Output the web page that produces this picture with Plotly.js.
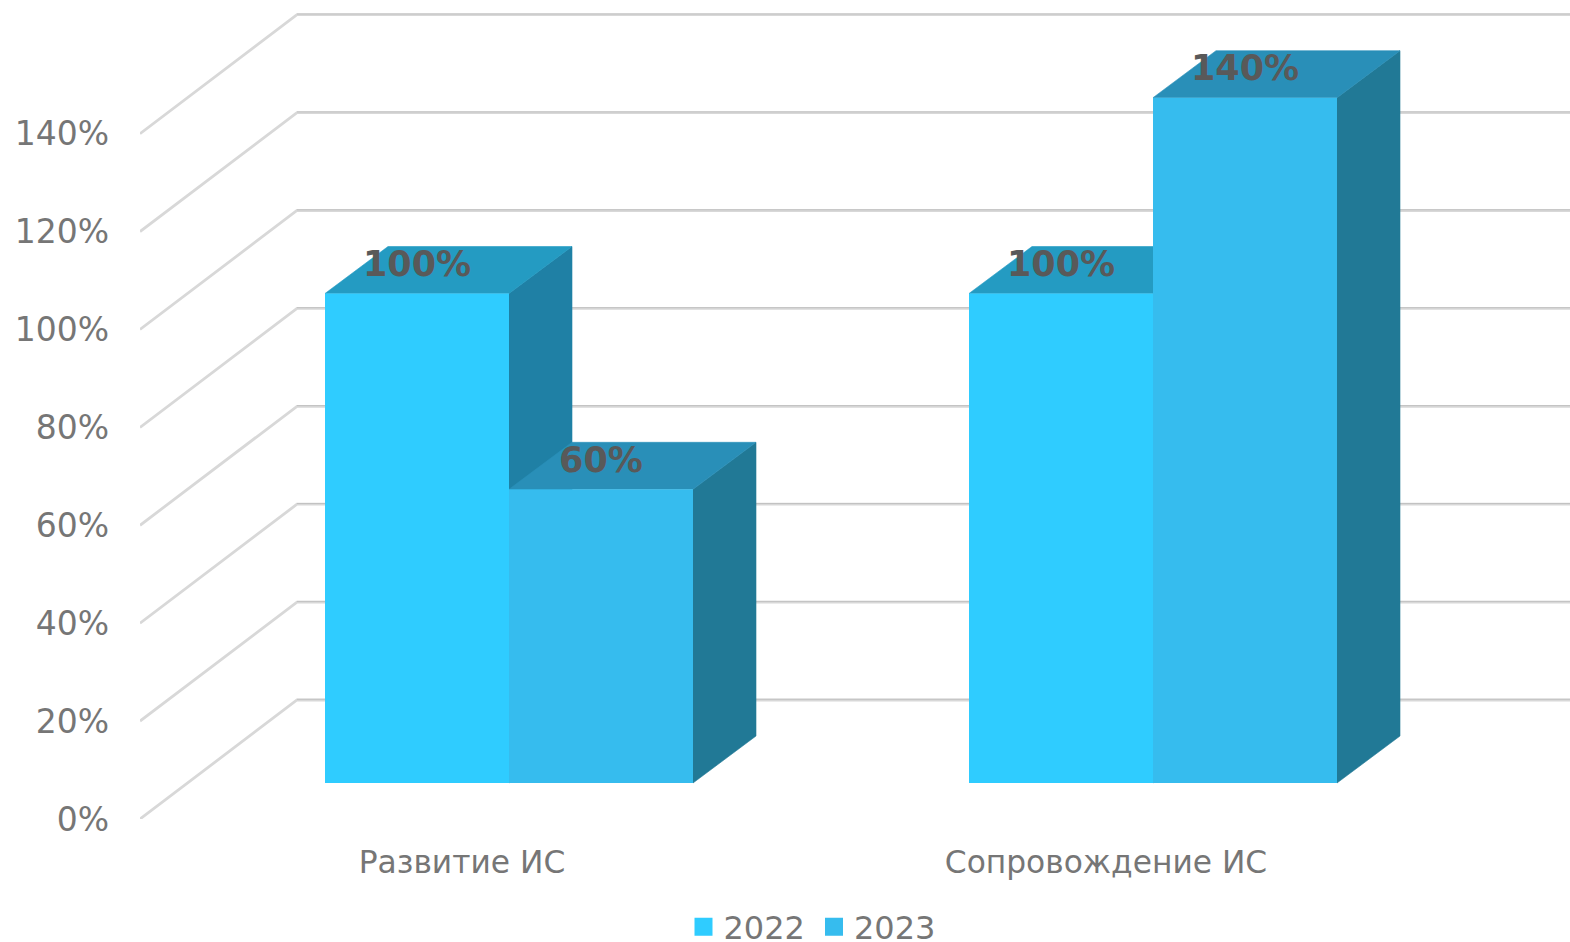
<!DOCTYPE html>
<html><head><meta charset="utf-8">
<script src="https://cdn.plot.ly/plotly-3.0.1.min.js"></script>
<style>html,body{margin:0;padding:0;background:#fff;overflow:hidden}#c{width:1570px;height:942px}</style>
</head><body><div id="c"></div>
<script>
const categories = ["Развитие ИС", "Сопровождение ИС"];
const seriesNames = ["2022", "2023"];
const values2022 = [100, 100];
const values2023 = [60, 140];
const tickValues = [0, 20, 40, 60, 80, 100, 120, 140];

const colors2022 = {front: "#2fccff", top: "#249bc2", side: "#1f80a5"};
const colors2023 = {front: "#36bcee", top: "#298fb8", side: "#217996"};

// scale: plot area in pixels
const W = 1570, H = 942, plotL = 140, plotB = 819;
const pxPerCat = 644, pxPerPct = 4.895;
const xUnit = px => px / pxPerCat, yUnit = px => px / pxPerPct;
const xRange = [-(462 - plotL) / pxPerCat, (W - 462) / pxPerCat];
const yRange = [0, plotB / pxPerPct];
const wallDx = xUnit(157), wallDy = yUnit(119);
const shiftDx = xUnit(47), shiftDy = yUnit(36);
const depthDx = xUnit(63), depthDy = yUnit(47);
const barW = xUnit(184);
const labelLift = yUnit(26.5);

const traces = [];

// walls and gridlines
const gx = [], gy = [], ex = [], ey = [];
tickValues.forEach(t => {
  gx.push(xRange[0], xRange[0] + wallDx, xRange[1] + 1, null);
  gy.push(t, t + wallDy, t + wallDy, null);
  ex.push(xRange[0] + wallDx, xRange[1] + 1, null);
  ey.push(t + wallDy + yUnit(0.7), t + wallDy + yUnit(0.7), null);
});
traces.push({type: "scatter", mode: "lines", x: gx, y: gy, hoverinfo: "skip", showlegend: false,
  line: {color: "#d8d8d8", width: 2.8}, xaxis: "x", yaxis: "y"});
traces.push({type: "scatter", mode: "lines", x: ex, y: ey, hoverinfo: "skip", showlegend: false,
  line: {color: "#c2c2c2", width: 1}, xaxis: "x", yaxis: "y"});

function poly(xs, ys, color) {
  traces.push({type: "scatter", mode: "lines", x: xs.concat(xs[0]), y: ys.concat(ys[0]), fill: "toself",
    fillcolor: color, line: {width: 0.6, color: color}, hoverinfo: "skip", showlegend: false, xaxis: "x", yaxis: "y"});
}
function faces(cat, vals, startOffset, c) {
  const x0 = cat + shiftDx + startOffset, x1 = x0 + barW;
  const b = shiftDy, t = shiftDy + vals;
  poly([x1, x1 + depthDx, x1 + depthDx, x1], [b, b + depthDy, t + depthDy, t], c.side);
  poly([x0, x0 + depthDx, x1 + depthDx, x1], [t, t + depthDy, t + depthDy, t], c.top);
}
categories.forEach((_, i) => {
  faces(i, values2022[i], -barW, colors2022);
  faces(i, values2023[i], 0, colors2023);
});

// front faces, on an overlay so that they sit above the side and top faces
const catPos = categories.map((_, i) => i);
function bars(vals, offset, c) {
  traces.push({type: "bar", x: catPos, y: vals, base: catPos.map(() => shiftDy), showlegend: false,
    width: catPos.map(() => barW), offset: catPos.map(() => offset),
    marker: {color: c.front, line: {color: c.front, width: 0}}, hoverinfo: "skip", xaxis: "x2", yaxis: "y2"});
}
bars(values2022, shiftDx - barW, colors2022);
bars(values2023, shiftDx, colors2023);

// legend keys
function key(name, c) {
  traces.push({type: "scatter", mode: "markers", name: name, x: [null], y: [null], showlegend: true,
    marker: {symbol: "square", size: 16, color: c.front, line: {color: c.front, width: 2}},
    hoverinfo: "skip", xaxis: "x2", yaxis: "y2"});
}
key(seriesNames[0], colors2022);
key(seriesNames[1], colors2023);

// data labels
function labels(vals, offset) {
  traces.push({type: "scatter", mode: "text", x: catPos.map(i => i + shiftDx + offset),
    y: vals.map(v => v + shiftDy + labelLift), text: vals.map(v => v + "%"), textposition: "middle center",
    textfont: {family: "DejaVu Sans", size: 35, color: "#595959", weight: 700},
    hoverinfo: "skip", showlegend: false, cliponaxis: false, xaxis: "x2", yaxis: "y2"});
}
labels(values2022, -barW / 2);
labels(values2023, barW / 2);

const font = {family: "DejaVu Sans", size: 32, color: "#767676"};
const layout = {
  width: W, height: H, autosize: false, showlegend: true,
  paper_bgcolor: "#fff", plot_bgcolor: "#fff", barmode: "overlay",
  margin: {l: plotL, r: 0, t: 0, b: H - plotB, pad: 0},
  font: font,
  xaxis: {type: "linear", range: xRange, tickmode: "array", tickvals: catPos, ticktext: categories,
    showgrid: false, zeroline: false, showline: false, ticks: "outside", ticklen: 0, tickcolor: "rgba(0,0,0,0)",
    ticklabelstandoff: 15, tickfont: Object.assign({}, font, {size: 31.3}), fixedrange: true},
  yaxis: {type: "linear", range: yRange, tickmode: "array", tickvals: tickValues,
    ticktext: tickValues.map(v => v + "%"), showgrid: false, zeroline: false, showline: false,
    ticks: "", ticklabelstandoff: 30, tickfont: Object.assign({}, font, {size: 33}), fixedrange: true},
  xaxis2: {overlaying: "x", matches: "x", visible: false, range: xRange},
  yaxis2: {overlaying: "y", matches: "y", visible: false, range: yRange},
  legend: {orientation: "h", xref: "container", yref: "container", x: 683.5 / W, xanchor: "left", y: (H - 927) / H, yanchor: "middle",
    font: font, itemwidth: 30, entrywidth: 85.5, entrywidthmode: "pixels", traceorder: "normal", bgcolor: "rgba(0,0,0,0)", borderwidth: 0, itemclick: false, itemdoubleclick: false}
};
Plotly.newPlot("c", traces, layout, {displayModeBar: false, staticPlot: true});
</script></body></html>
